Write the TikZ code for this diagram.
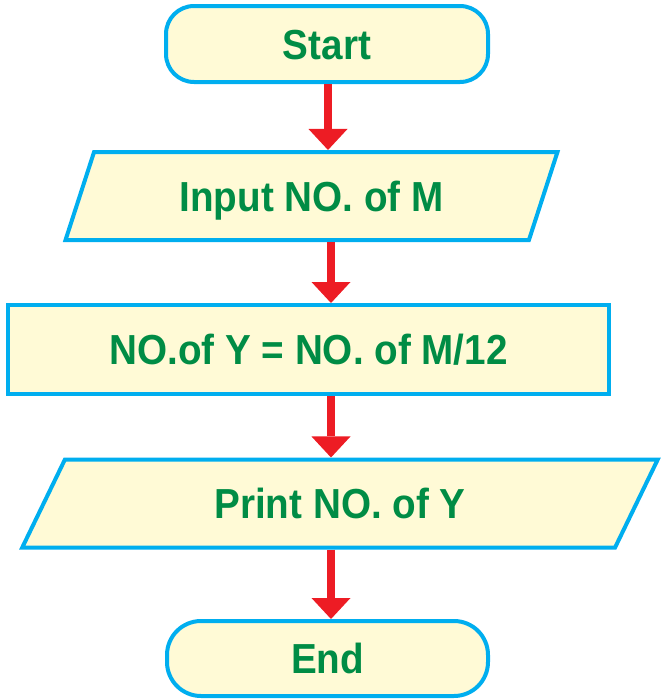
\documentclass[tikz,border=0pt]{standalone}
\usepackage{fontspec}
\newfontfamily\lblfont{Liberation Sans}[FakeStretch=0.92]
\usetikzlibrary{shapes.geometric,arrows.meta}
\definecolor{boxline}{RGB}{0,174,239}
\definecolor{boxfill}{RGB}{255,250,214}
\definecolor{txtgreen}{RGB}{0,140,69}
\definecolor{flowred}{RGB}{237,28,36}
\begin{document}
\begin{tikzpicture}[x=1pt,y=-1pt,
  base/.style={draw=boxline,fill=boxfill,line width=4pt,text=txtgreen,
    font=\lblfont\bfseries\fontsize{42}{50}\selectfont,
    inner sep=0pt,text height=30pt,text depth=0pt},
  term/.style={base,rectangle,rounded corners=#1,minimum width=322pt,minimum height=76pt},
  io/.style 2 args={base,trapezium,trapezium left angle=#1,trapezium right angle=#2,
    trapezium stretches=true,minimum height=88pt},
  proc/.style={base,rectangle,minimum width=601pt,minimum height=89pt},
  flowarrow/.style={draw=flowred,line width=8pt,
    -{Triangle[width=39pt,length=21pt,line width=0pt]}}
]
\useasboundingbox (0,0) rectangle (662,699);

% flowchart boxes
\node[term=28pt] (start) at (327,44) {Start};
\node[io={60}{120},minimum width=493pt] (input) at (311.5,196) {Input NO. of M};
\node[proc] (calc) at (308.5,349.5) {NO.of Y = NO. of M/12};
\node[io={57}{123},minimum width=638pt] (print) at (340,503.5) {Print NO. of Y};
\node[term=34pt,minimum width=321pt,minimum height=75pt] (end) at (327.5,658.5) {End};

% vertical guides for the connectors
\coordinate (c1) at (328,0);
\coordinate (c2) at (331,0);

% connectors
\draw[flowarrow] (start.south -| c1) -- (input.north -| c1);
\draw[flowarrow] (input.south -| c2) -- (calc.north -| c2);
\draw[flowarrow] (calc.south -| c2) -- (print.north -| c2);
\draw[flowarrow] (print.south -| c2) -- (end.north -| c2);
\end{tikzpicture}
\end{document}
